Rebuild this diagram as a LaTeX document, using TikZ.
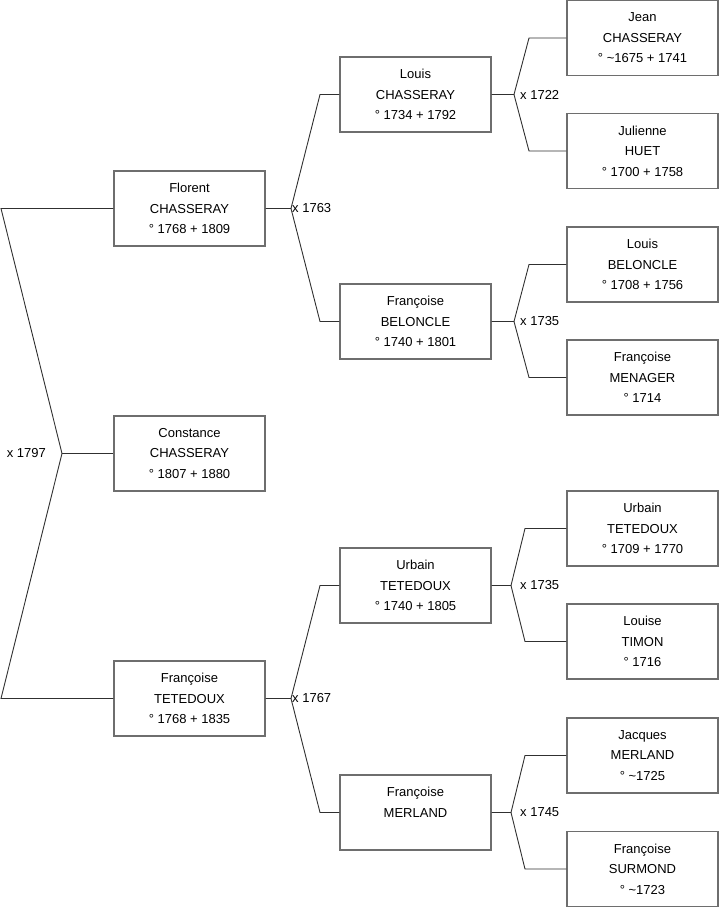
\documentclass[tikz,border=0pt]{standalone}
\usepackage{fontspec}
\setmainfont{Liberation Sans}
\usepackage{tikz}
\usetikzlibrary{positioning, calc}
\definecolor{boxline}{HTML}{6E6E6E}
\definecolor{linkline}{HTML}{303030}

\tikzset{
  person/.style={draw=boxline, line width=1.2pt, minimum width=151pt, minimum height=75pt,
    inner sep=0pt, align=center, font=\fontsize{13}{20.5}\selectfont},
  link/.style={draw=linkline, line width=0.9pt},
  wed/.style={inner sep=0pt, font=\fontsize{13}{15}\selectfont}
}

\begin{document}
\begin{tikzpicture}[x=1pt, y=-1pt]
    \useasboundingbox (0,0) rectangle (719,908);
    \node[person] (flo) at (189.5,208.5) {Florent\\CHASSERAY\\° 1768 + 1809};
    \node[person] (con) at (189.5,453.5) {Constance\\CHASSERAY\\° 1807 + 1880};
    \node[person] (fte) at (189.5,698.5) {Françoise\\TETEDOUX\\° 1768 + 1835};

    \node[person] (lou) at (415.5,94.5)  {Louis\\CHASSERAY\\° 1734 + 1792};
    \node[person] (fbe) at (415.5,321.5) {Françoise\\BELONCLE\\° 1740 + 1801};
    \node[person] (urb) at (415.5,585.5) {Urbain\\TETEDOUX\\° 1740 + 1805};
    \node[person] (fme) at (415.5,812.5) {Françoise\\MERLAND\\~};

    \node[person] (jea) at (642.5,38)    {Jean\\CHASSERAY\\° \textasciitilde 1675 + 1741};
    \node[person] (jul) at (642.5,151)   {Julienne\\HUET\\° 1700 + 1758};
    \node[person] (lbe) at (642.5,264.5) {Louis\\BELONCLE\\° 1708 + 1756};
    \node[person] (fmn) at (642.5,377.5) {Françoise\\MENAGER\\° 1714};
    \node[person] (urt) at (642.5,528.5) {Urbain\\TETEDOUX\\° 1709 + 1770};
    \node[person] (lti) at (642.5,641.5) {Louise\\TIMON\\° 1716};
    \node[person] (jme) at (642.5,755.5) {Jacques\\MERLAND\\° \textasciitilde 1725};
    \node[person] (fsu) at (642.5,869)   {Françoise\\SURMOND\\° \textasciitilde 1723};

    \coordinate (con-m) at (con.west -| 62,0);
    \coordinate (flo-e) at (flo.west -| 1,0);
    \coordinate (fte-e) at (fte.west -| 1,0);
    \draw[link] (flo.west) -- (flo-e) -- (con-m) -- (fte-e) -- (fte.west);
    \draw[link] (con-m) -- (con.west);
    \node[wed, anchor=east] (con-w) at ([xshift=-16pt]con-m) {x 1797};

    \foreach \p/\up/\dn/\ax/\ex/\lx/\yr in {flo/lou/fbe/291/320/1/1763, fte/urb/fme/291/320/1/1767,
        lou/jea/jul/514/529/6/1722, fbe/lbe/fmn/514/529/6/1735,
        urb/urt/lti/511/525/9/1735, fme/jme/fsu/511/525/9/1745}{%
      \coordinate (\p-m) at (\p.east -| \ax,0);
      \coordinate (\up-e) at (\up.west -| \ex,0);
      \coordinate (\dn-e) at (\dn.west -| \ex,0);
      \draw[link] (\p.east) -- (\p-m) -- (\up-e) -- (\up.west);
      \draw[link] (\p-m) -- (\dn-e) -- (\dn.west);
      \node[wed, right=\lx pt of \p-m] (\p-w) {x \yr};
    }
  \end{tikzpicture}
\end{document}
